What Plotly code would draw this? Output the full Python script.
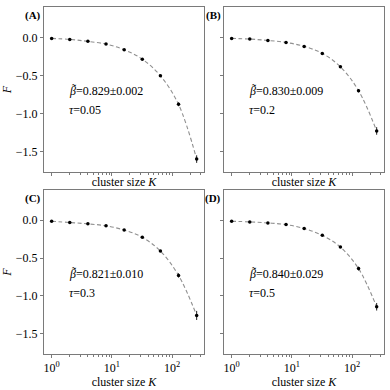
import plotly.graph_objects as go

# cluster sizes (shared by all four panels)
K = [1, 2, 4, 8, 16, 32, 64, 128, 256]

# F values
F_A = [-0.013, -0.026, -0.052, -0.088, -0.162, -0.286, -0.505, -0.88, -1.60]
F_B = [-0.013, -0.022, -0.040, -0.066, -0.118, -0.210, -0.387, -0.70, -1.23]
F_C = [-0.013, -0.030, -0.048, -0.074, -0.130, -0.226, -0.408, -0.73, -1.26]
F_D = [-0.013, -0.022, -0.036, -0.058, -0.110, -0.200, -0.355, -0.64, -1.145]

ERR_A = [0.002, 0.002, 0.003, 0.004, 0.006, 0.008, 0.012, 0.025, 0.05]
ERR_B = [0.002, 0.002, 0.003, 0.004, 0.006, 0.008, 0.012, 0.022, 0.05]
ERR_C = [0.002, 0.002, 0.003, 0.004, 0.006, 0.008, 0.014, 0.028, 0.06]
ERR_D = [0.002, 0.002, 0.003, 0.004, 0.006, 0.008, 0.012, 0.025, 0.05]

PANELS = ["(A)", "(B)", "(C)", "(D)"]
BETA = ["0.829±0.002", "0.830±0.009", "0.821±0.010", "0.840±0.029"]
TAU = ["0.05", "0.2", "0.3", "0.5"]

SERIES = [F_A, F_B, F_C, F_D]
ERRORS = [ERR_A, ERR_B, ERR_C, ERR_D]

FONT = "Liberation Serif"
AX_COL = "#7a7a7a"

# pixel boxes of the four axes (390x390 canvas)
X_DOM = [[44 / 390, 204 / 390], [224 / 390, 384 / 390]]
Y_DOM = [[1 - 172 / 390, 1 - 7 / 390], [1 - 354 / 390, 1 - 190 / 390]]

MINOR = [2, 3, 4, 5, 6, 7, 8, 9, 20, 30, 40, 50, 60, 70, 80, 90, 200, 300]

fig = go.Figure()
layout = {}

for i in range(4):
    row, col = divmod(i, 2)
    n = "" if i == 0 else str(i + 1)
    xa, ya = "x" + n, "y" + n

    # fitted dashed curve
    fig.add_trace(go.Scatter(
        x=K, y=SERIES[i], xaxis=xa, yaxis=ya, mode="lines",
        line=dict(color="#909090", width=1.1, dash="4px,2.5px", shape="spline"),
        showlegend=False, hoverinfo="skip",
    ))
    # measured points with error bars
    fig.add_trace(go.Scatter(
        x=K, y=SERIES[i], xaxis=xa, yaxis=ya, mode="markers",
        marker=dict(color="black", size=3.5),
        error_y=dict(type="data", array=ERRORS[i], color="#222222",
                     thickness=1, width=0),
        showlegend=False,
    ))

    layout["xaxis" + n] = dict(
        type="log", range=[-0.127, 2.53], domain=X_DOM[col],
        anchor=ya, showgrid=False, zeroline=False, automargin=False,
        showline=True, linecolor=AX_COL, linewidth=1, mirror=True,
        ticks="outside", ticklen=3, tickcolor=AX_COL,
        tickvals=[1, 10, 100],
        ticktext=["10<sup>0</sup>", "10<sup>1</sup>", "10<sup>2</sup>"],
        showticklabels=(row == 1),
        tickfont=dict(size=12, color="black", family=FONT),
        minor=dict(tickvals=MINOR, ticks="outside", ticklen=2,
                   tickcolor=AX_COL, showgrid=False),
        title=dict(text="cluster size <i>K</i>", standoff=2,
                   font=dict(size=12, color="black", family=FONT)),
    )
    ydict = dict(
        range=[-1.77, 0.40], domain=Y_DOM[row],
        anchor=xa, showgrid=False, zeroline=False, automargin=False,
        showline=True, linecolor=AX_COL, linewidth=1, mirror=True,
        ticks="outside", ticklen=3, tickcolor=AX_COL,
        tickvals=[0, -0.5, -1.0, -1.5],
        ticktext=["0.0", "−0.5", "−1.0", "−1.5"],
        showticklabels=(col == 0),
        tickfont=dict(size=12, color="black", family=FONT),
    )
    if col == 0:
        ydict["title"] = dict(text="<i>F</i>", standoff=6,
                              font=dict(size=12, color="black", family=FONT))
    layout["yaxis" + n] = ydict

annotations = []
for i in range(4):
    n = "" if i == 0 else str(i + 1)
    xd, yd = "x" + n + " domain", "y" + n + " domain"
    annotations.append(dict(
        text="<b>" + PANELS[i] + "</b>", xref=xd, yref=yd,
        x=-0.005, y=1.0, xanchor="right", yanchor="top", showarrow=False,
        font=dict(size=11, color="black", family=FONT),
    ))
    annotations.append(dict(
        text="<i>β</i>=" + BETA[i], xref=xd, yref=yd,
        x=0.145, y=0.49, xanchor="left", yanchor="middle", showarrow=False,
        font=dict(size=12, color="black", family=FONT),
    ))
    # tilde accent over beta
    annotations.append(dict(
        text="˜", xref=xd, yref=yd,
        x=0.145, y=0.49, xanchor="center", yanchor="middle", showarrow=False,
        xshift=6.5, yshift=2,
        font=dict(size=12, color="black", family=FONT),
    ))
    annotations.append(dict(
        text="<i>τ</i>=" + TAU[i], xref=xd, yref=yd,
        x=0.145, y=0.375, xanchor="left", yanchor="middle", showarrow=False,
        font=dict(size=12, color="black", family=FONT),
    ))

fig.update_layout(
    width=390, height=390,
    margin=dict(l=0, r=0, t=0, b=0),
    paper_bgcolor="white", plot_bgcolor="white",
    font=dict(family=FONT, color="black"),
    annotations=annotations,
    **layout,
)

fig.write_html("out.html", config=dict(displayModeBar=False),
               post_script="document.body.style.margin='0';")
